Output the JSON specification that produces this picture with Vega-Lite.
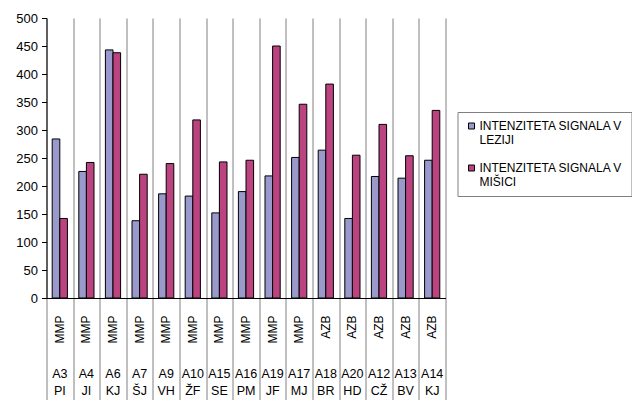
{
  "$schema": "https://vega.github.io/schema/vega-lite/v6.json",
  "width": 399,
  "height": 280,
  "autosize": {"type": "none"},
  "padding": {"left": 46.5, "top": 18, "right": 186.5, "bottom": 102},
  "background": "white",
  "config": {
    "view": {"stroke": null},
    "font": "Liberation Sans",
    "axis": {"labelColor": "black", "labelFont": "Liberation Sans"},
    "legend": {"labelColor": "black", "labelFont": "Liberation Sans"}
  },
  "data": {
    "values": [
      {"code": "A3", "initials": "PI", "group": "MMP", "series": "INTENZITETA SIGNALA V LEZIJI", "value": 284},
      {"code": "A3", "initials": "PI", "group": "MMP", "series": "INTENZITETA SIGNALA V MIŠICI", "value": 142},
      {"code": "A4", "initials": "JI", "group": "MMP", "series": "INTENZITETA SIGNALA V LEZIJI", "value": 226},
      {"code": "A4", "initials": "JI", "group": "MMP", "series": "INTENZITETA SIGNALA V MIŠICI", "value": 242},
      {"code": "A6", "initials": "KJ", "group": "MMP", "series": "INTENZITETA SIGNALA V LEZIJI", "value": 443},
      {"code": "A6", "initials": "KJ", "group": "MMP", "series": "INTENZITETA SIGNALA V MIŠICI", "value": 438},
      {"code": "A7", "initials": "ŠJ", "group": "MMP", "series": "INTENZITETA SIGNALA V LEZIJI", "value": 138},
      {"code": "A7", "initials": "ŠJ", "group": "MMP", "series": "INTENZITETA SIGNALA V MIŠICI", "value": 221},
      {"code": "A9", "initials": "VH", "group": "MMP", "series": "INTENZITETA SIGNALA V LEZIJI", "value": 186},
      {"code": "A9", "initials": "VH", "group": "MMP", "series": "INTENZITETA SIGNALA V MIŠICI", "value": 240},
      {"code": "A10", "initials": "ŽF", "group": "MMP", "series": "INTENZITETA SIGNALA V LEZIJI", "value": 182},
      {"code": "A10", "initials": "ŽF", "group": "MMP", "series": "INTENZITETA SIGNALA V MIŠICI", "value": 318},
      {"code": "A15", "initials": "SE", "group": "MMP", "series": "INTENZITETA SIGNALA V LEZIJI", "value": 152},
      {"code": "A15", "initials": "SE", "group": "MMP", "series": "INTENZITETA SIGNALA V MIŠICI", "value": 243},
      {"code": "A16", "initials": "PM", "group": "MMP", "series": "INTENZITETA SIGNALA V LEZIJI", "value": 190},
      {"code": "A16", "initials": "PM", "group": "MMP", "series": "INTENZITETA SIGNALA V MIŠICI", "value": 246},
      {"code": "A19", "initials": "JF", "group": "MMP", "series": "INTENZITETA SIGNALA V LEZIJI", "value": 218},
      {"code": "A19", "initials": "JF", "group": "MMP", "series": "INTENZITETA SIGNALA V MIŠICI", "value": 450},
      {"code": "A17", "initials": "MJ", "group": "MMP", "series": "INTENZITETA SIGNALA V LEZIJI", "value": 251},
      {"code": "A17", "initials": "MJ", "group": "MMP", "series": "INTENZITETA SIGNALA V MIŠICI", "value": 346},
      {"code": "A18", "initials": "BR", "group": "AZB", "series": "INTENZITETA SIGNALA V LEZIJI", "value": 264},
      {"code": "A18", "initials": "BR", "group": "AZB", "series": "INTENZITETA SIGNALA V MIŠICI", "value": 382},
      {"code": "A20", "initials": "HD", "group": "AZB", "series": "INTENZITETA SIGNALA V LEZIJI", "value": 142},
      {"code": "A20", "initials": "HD", "group": "AZB", "series": "INTENZITETA SIGNALA V MIŠICI", "value": 255},
      {"code": "A12", "initials": "CŽ", "group": "AZB", "series": "INTENZITETA SIGNALA V LEZIJI", "value": 217},
      {"code": "A12", "initials": "CŽ", "group": "AZB", "series": "INTENZITETA SIGNALA V MIŠICI", "value": 310},
      {"code": "A13", "initials": "BV", "group": "AZB", "series": "INTENZITETA SIGNALA V LEZIJI", "value": 214},
      {"code": "A13", "initials": "BV", "group": "AZB", "series": "INTENZITETA SIGNALA V MIŠICI", "value": 254},
      {"code": "A14", "initials": "KJ", "group": "AZB", "series": "INTENZITETA SIGNALA V LEZIJI", "value": 246},
      {"code": "A14", "initials": "KJ", "group": "AZB", "series": "INTENZITETA SIGNALA V MIŠICI", "value": 335}
    ]
  },
  "transform": [
    {"calculate": "datum.group + '|' + datum.code + '|' + datum.initials", "as": "key"}
  ],
  "layer": [
    {
      "mark": {"type": "bar", "stroke": "black", "strokeWidth": 1},
      "encoding": {
        "x": {
          "field": "key", "type": "nominal", "sort": null,
          "scale": {"paddingInner": 0, "paddingOuter": 0},
          "axis": {
            "orient": "bottom",
            "title": null, "labels": false, "tickBand": "extent",
            "grid": true, "gridColor": "#808080", "gridWidth": 1,
            "tickColor": "#808080", "tickSize": 102, "ticks": true,
            "domainColor": "black"
          }
        },
        "xOffset": {
          "field": "series", "type": "nominal",
          "scale": {"paddingInner": 0, "paddingOuter": 0.75}
        },
        "y": {
          "field": "value", "type": "quantitative",
          "scale": {"domain": [0, 500], "nice": false},
          "axis": {
            "title": null, "values": [0, 50, 100, 150, 200, 250, 300, 350, 400, 450, 500],
            "grid": false, "domainColor": "black", "tickColor": "black",
            "tickSize": 5, "labelFontSize": 13, "labelPadding": 4
          }
        },
        "color": {
          "field": "series", "type": "nominal",
          "scale": {
            "domain": ["INTENZITETA SIGNALA V LEZIJI", "INTENZITETA SIGNALA V MIŠICI"],
            "range": ["#9999CC", "#BB4480"]
          },
          "legend": {
            "title": null, "orient": "none", "legendX": 411, "legendY": 94,
            "strokeColor": "#808080", "padding": 8,
            "symbolType": "square", "symbolSize": 36,
            "symbolStrokeColor": "black", "symbolStrokeWidth": 1,
            "labelFontSize": 12, "labelLimit": 0, "labelOffset": 2,
            "labelExpr": "[slice(datum.label, 0, 21), slice(datum.label, 22)]",
            "labelBaseline": "middle", "labelLineHeight": 17, "rowPadding": 16
          }
        }
      }
    },
    {
      "mark": {"type": "rule", "opacity": 0},
      "encoding": {
        "x": {
          "field": "key", "type": "nominal", "sort": null,
          "axis": {
            "orient": "bottom",
            "title": null, "ticks": false, "domain": false, "grid": false,
            "labelAngle": -90, "labelAlign": "right", "labelBaseline": "middle",
            "labelPadding": 17, "labelFontSize": 12, "labelOverlap": false,
            "labelExpr": "split(datum.value, '|')[0]"
          }
        }
      }
    },
    {
      "mark": {"type": "rule", "opacity": 0},
      "encoding": {
        "x": {
          "field": "key", "type": "nominal", "sort": null,
          "axis": {
            "orient": "bottom",
            "title": null, "ticks": false, "domain": false, "grid": false,
            "labelAngle": 0, "labelAlign": "center", "labelBaseline": "top",
            "labelPadding": 69, "labelFontSize": 12.5, "labelOverlap": false,
            "labelLimit": 0, "labelLineHeight": 17, "labelFlush": false,
            "labelExpr": "[split(datum.value, '|')[1], split(datum.value, '|')[2]]"
          }
        }
      }
    }
  ],
  "resolve": {"axis": {"x": "independent"}}
}
